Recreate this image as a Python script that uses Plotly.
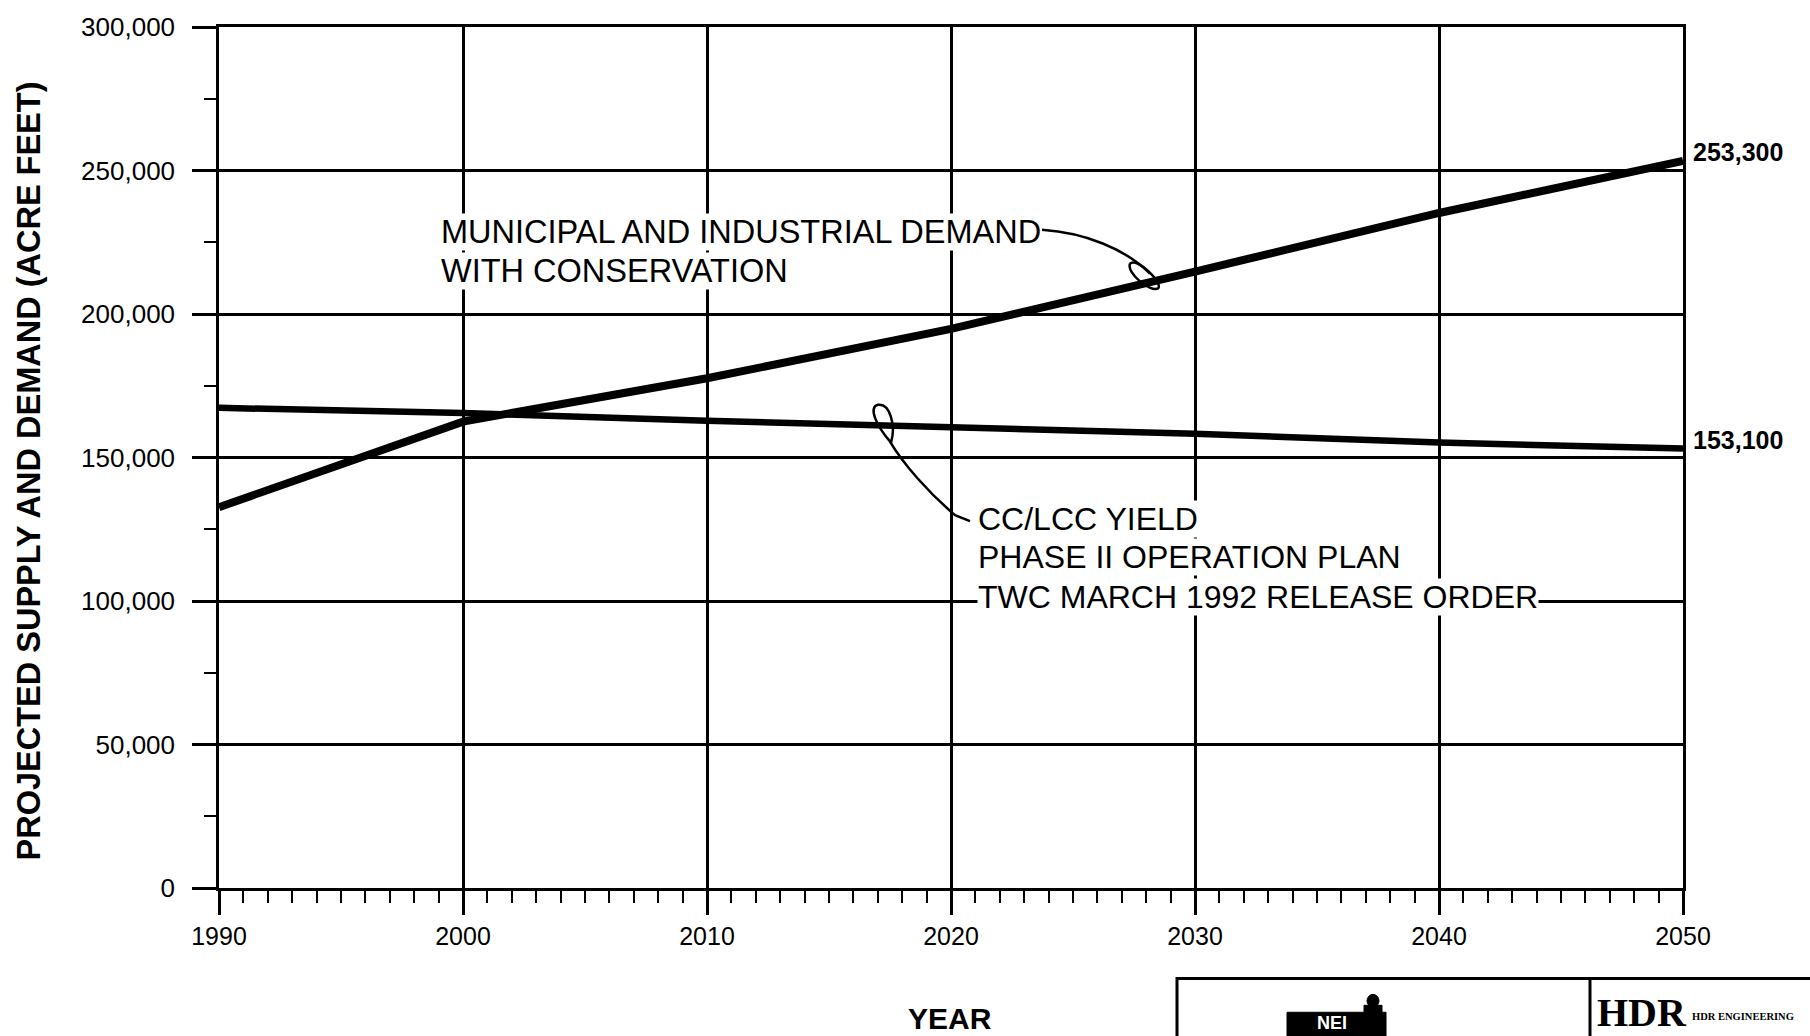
import plotly.graph_objects as go

# ---- data -------------------------------------------------------------
years = [1990, 2000, 2010, 2020, 2030, 2040, 2050]
demand = [132700, 162500, 177600, 194800, 214800, 235200, 253300]   # M&I demand with conservation
cc_yield = [167300, 165500, 162800, 160700, 158300, 155200, 153100]  # CC/LCC yield

x_tick_vals = [1990, 2000, 2010, 2020, 2030, 2040, 2050]
y_tick_vals = [0, 50000, 100000, 150000, 200000, 250000, 300000]
y_tick_text = ["0", "50,000", "100,000", "150,000", "200,000", "250,000", "300,000"]

demand_label = ["MUNICIPAL AND INDUSTRIAL DEMAND", "WITH CONSERVATION"]
yield_label = ["CC/LCC YIELD", "PHASE II OPERATION PLAN", "TWC MARCH 1992 RELEASE ORDER"]

# ---- canvas geometry ----------------------------------------------------
FIG_W, FIG_H = 1810, 1036
M_L, M_R, M_T, M_B = 219, 127, 22, 148
PW, PH = FIG_W - M_L - M_R, FIG_H - M_T - M_B
FONT = "Liberation Sans, Arial, sans-serif"
SERIF = "Liberation Serif, Times New Roman, serif"


def to_paper(xp, yp):
    """Canvas pixel -> paper coordinates."""
    return (xp - M_L) / PW, (M_T + PH - yp) / PH


def path(cmds):
    """Build an SVG path in paper space from (cmd, [(x, y), ...]) pixel pairs."""
    out = []
    for cmd, pts in cmds:
        seg = cmd
        for (a, b) in pts:
            px_, py_ = to_paper(a, b)
            seg += f" {px_:.5f},{py_:.5f}"
        out.append(seg)
    return " ".join(out)


fig = go.Figure()

fig.add_trace(go.Scatter(
    x=years, y=cc_yield, mode="lines",
    line=dict(color="black", width=6.5), hoverinfo="skip", showlegend=False,
))
fig.add_trace(go.Scatter(
    x=years, y=demand, mode="lines",
    line=dict(color="black", width=8), hoverinfo="skip", showlegend=False,
))

shapes = []
# leader from the demand caption down to its curve, with a small loop
shapes.append(dict(type="path", xref="paper", yref="paper",
                   path=path([("M", [(1042, 226)]),
                              ("C", [(1085, 229), (1125, 245), (1150, 270)])]),
                   line=dict(color="black", width=2.5)))
shapes.append(dict(type="path", xref="paper", yref="paper",
                   path=path([("M", [(1130, 260)]),
                              ("C", [(1126, 269), (1150, 289), (1158, 285)]),
                              ("C", [(1164, 280), (1137, 253), (1130, 260)])]),
                   line=dict(color="black", width=2.5)))
# leader from the yield caption up to its curve, with a small loop
shapes.append(dict(type="path", xref="paper", yref="paper",
                   path=path([("M", [(970, 519)]), ("L", [(955, 513)]),
                              ("C", [(928, 490), (903, 461), (890, 439)])]),
                   line=dict(color="black", width=2.5)))
shapes.append(dict(type="path", xref="paper", yref="paper",
                   path=path([("M", [(891, 440)]),
                              ("C", [(876, 423), (868, 404), (878, 402)]),
                              ("C", [(890, 400), (896, 423), (891, 440)])]),
                   line=dict(color="black", width=2.5)))

# title block frame in the lower right corner
x0, y0 = to_paper(1177, 979)
x1, y1 = to_paper(1840, 1070)
shapes.append(dict(type="rect", xref="paper", yref="paper", x0=x0, y0=y0, x1=x1, y1=y1,
                   line=dict(color="black", width=3), fillcolor="rgba(0,0,0,0)"))
dx, _ = to_paper(1590, 0)
shapes.append(dict(type="line", xref="paper", yref="paper", x0=dx, y0=y0, x1=dx, y1=y1,
                   line=dict(color="black", width=3)))
# small block logo
bx0, by0 = to_paper(1287, 1013)
bx1, by1 = to_paper(1386, 1050)
shapes.append(dict(type="rect", xref="paper", yref="paper", x0=bx0, y0=by0, x1=bx1, y1=by1,
                   line=dict(color="black", width=1), fillcolor="black"))
hx0, hy0 = to_paper(1367, 995)
hx1, hy1 = to_paper(1379, 1008)
shapes.append(dict(type="circle", xref="paper", yref="paper", x0=hx0, y0=hy0, x1=hx1, y1=hy1,
                   line=dict(color="black", width=1), fillcolor="black"))
sx0, sy0 = to_paper(1364, 1006)
sx1, sy1 = to_paper(1382, 1015)
shapes.append(dict(type="rect", xref="paper", yref="paper", x0=sx0, y0=sy0, x1=sx1, y1=sy1,
                   line=dict(color="black", width=1), fillcolor="black"))

annotations = []


def caption(lines, left_px, centers_px, size=32.5):
    for txt, cy in zip(lines, centers_px):
        ax, ay = to_paper(left_px, cy)
        annotations.append(dict(
            text=txt, xref="paper", yref="paper", x=ax, y=ay,
            xanchor="left", yanchor="middle", showarrow=False,
            bgcolor="white", borderpad=0,
            font=dict(family=FONT, size=size, color="black"),
        ))


caption(demand_label, 440, [228, 267])
caption(yield_label, 977, [517, 555, 595], size=32)

# end-of-line values
for series in (demand, cc_yield):
    annotations.append(dict(
        text=f"{series[-1]:,}", xref="x", yref="y", x=years[-1], y=series[-1],
        xanchor="left", yanchor="middle", xshift=8, yshift=9, showarrow=False,
        font=dict(family=FONT, size=25, color="black", weight="bold"),
    ))

# axis titles
tx, ty = to_paper(29, 469)
annotations.append(dict(
    text="PROJECTED SUPPLY AND DEMAND (ACRE FEET)", xref="paper", yref="paper",
    x=tx, y=ty, textangle=-90, showarrow=False, xanchor="center", yanchor="middle",
    font=dict(family=FONT, size=32.5, color="black", weight="bold"),
))
tx, ty = to_paper(950, 1019)
annotations.append(dict(
    text="YEAR", xref="paper", yref="paper", x=tx, y=ty, showarrow=False,
    xanchor="center", yanchor="middle",
    font=dict(family=FONT, size=30, color="black", weight="bold"),
))

# logo lettering
lx, ly = to_paper(1332, 1024)
annotations.append(dict(
    text="NEI", xref="paper", yref="paper", x=lx, y=ly, showarrow=False,
    xanchor="center", yanchor="middle", borderpad=0,
    font=dict(family=FONT, size=18, color="white", weight="bold"),
))
lx, ly = to_paper(1596, 1013)
annotations.append(dict(
    text="HDR", xref="paper", yref="paper", x=lx, y=ly, showarrow=False,
    xanchor="left", yanchor="middle", borderpad=0,
    font=dict(family=SERIF, size=40, color="black", weight="bold"),
))
lx, ly = to_paper(1690, 1017)
annotations.append(dict(
    text="HDR ENGINEERING", xref="paper", yref="paper", x=lx, y=ly, showarrow=False,
    xanchor="left", yanchor="middle",
    font=dict(family=SERIF, size=10.5, color="black", weight="bold"),
))

fig.update_layout(
    width=FIG_W, height=FIG_H,
    margin=dict(l=M_L, r=M_R, t=M_T, b=M_B, pad=0),
    paper_bgcolor="white", plot_bgcolor="white",
    showlegend=False,
    shapes=shapes, annotations=annotations,
    font=dict(family=FONT, color="black"),
)

fig.update_xaxes(
    range=[1990, 2050], tickvals=x_tick_vals,
    showgrid=True, gridcolor="black", gridwidth=2.5,
    showline=True, linecolor="black", linewidth=2.5, mirror=True,
    zeroline=False,
    ticks="outside", ticklen=24, tickwidth=2.5, tickcolor="black",
    ticklabelstandoff=0,
    tickfont=dict(family=FONT, size=25, color="black"),
    minor=dict(dtick=1, tick0=1990, ticks="outside", ticklen=12, tickwidth=2,
               tickcolor="black", showgrid=False),
)
fig.update_yaxes(
    range=[0, 300000], tickvals=y_tick_vals, ticktext=y_tick_text,
    showgrid=True, gridcolor="black", gridwidth=2.5,
    showline=True, linecolor="black", linewidth=2.5, mirror=True,
    zeroline=False,
    ticks="outside", ticklen=24, tickwidth=2.5, tickcolor="black",
    ticklabelstandoff=12,
    tickfont=dict(family=FONT, size=26, color="black"),
    minor=dict(dtick=25000, tick0=0, ticks="outside", ticklen=12, tickwidth=2,
               tickcolor="black", showgrid=False),
)

fig.write_html("out.html")
